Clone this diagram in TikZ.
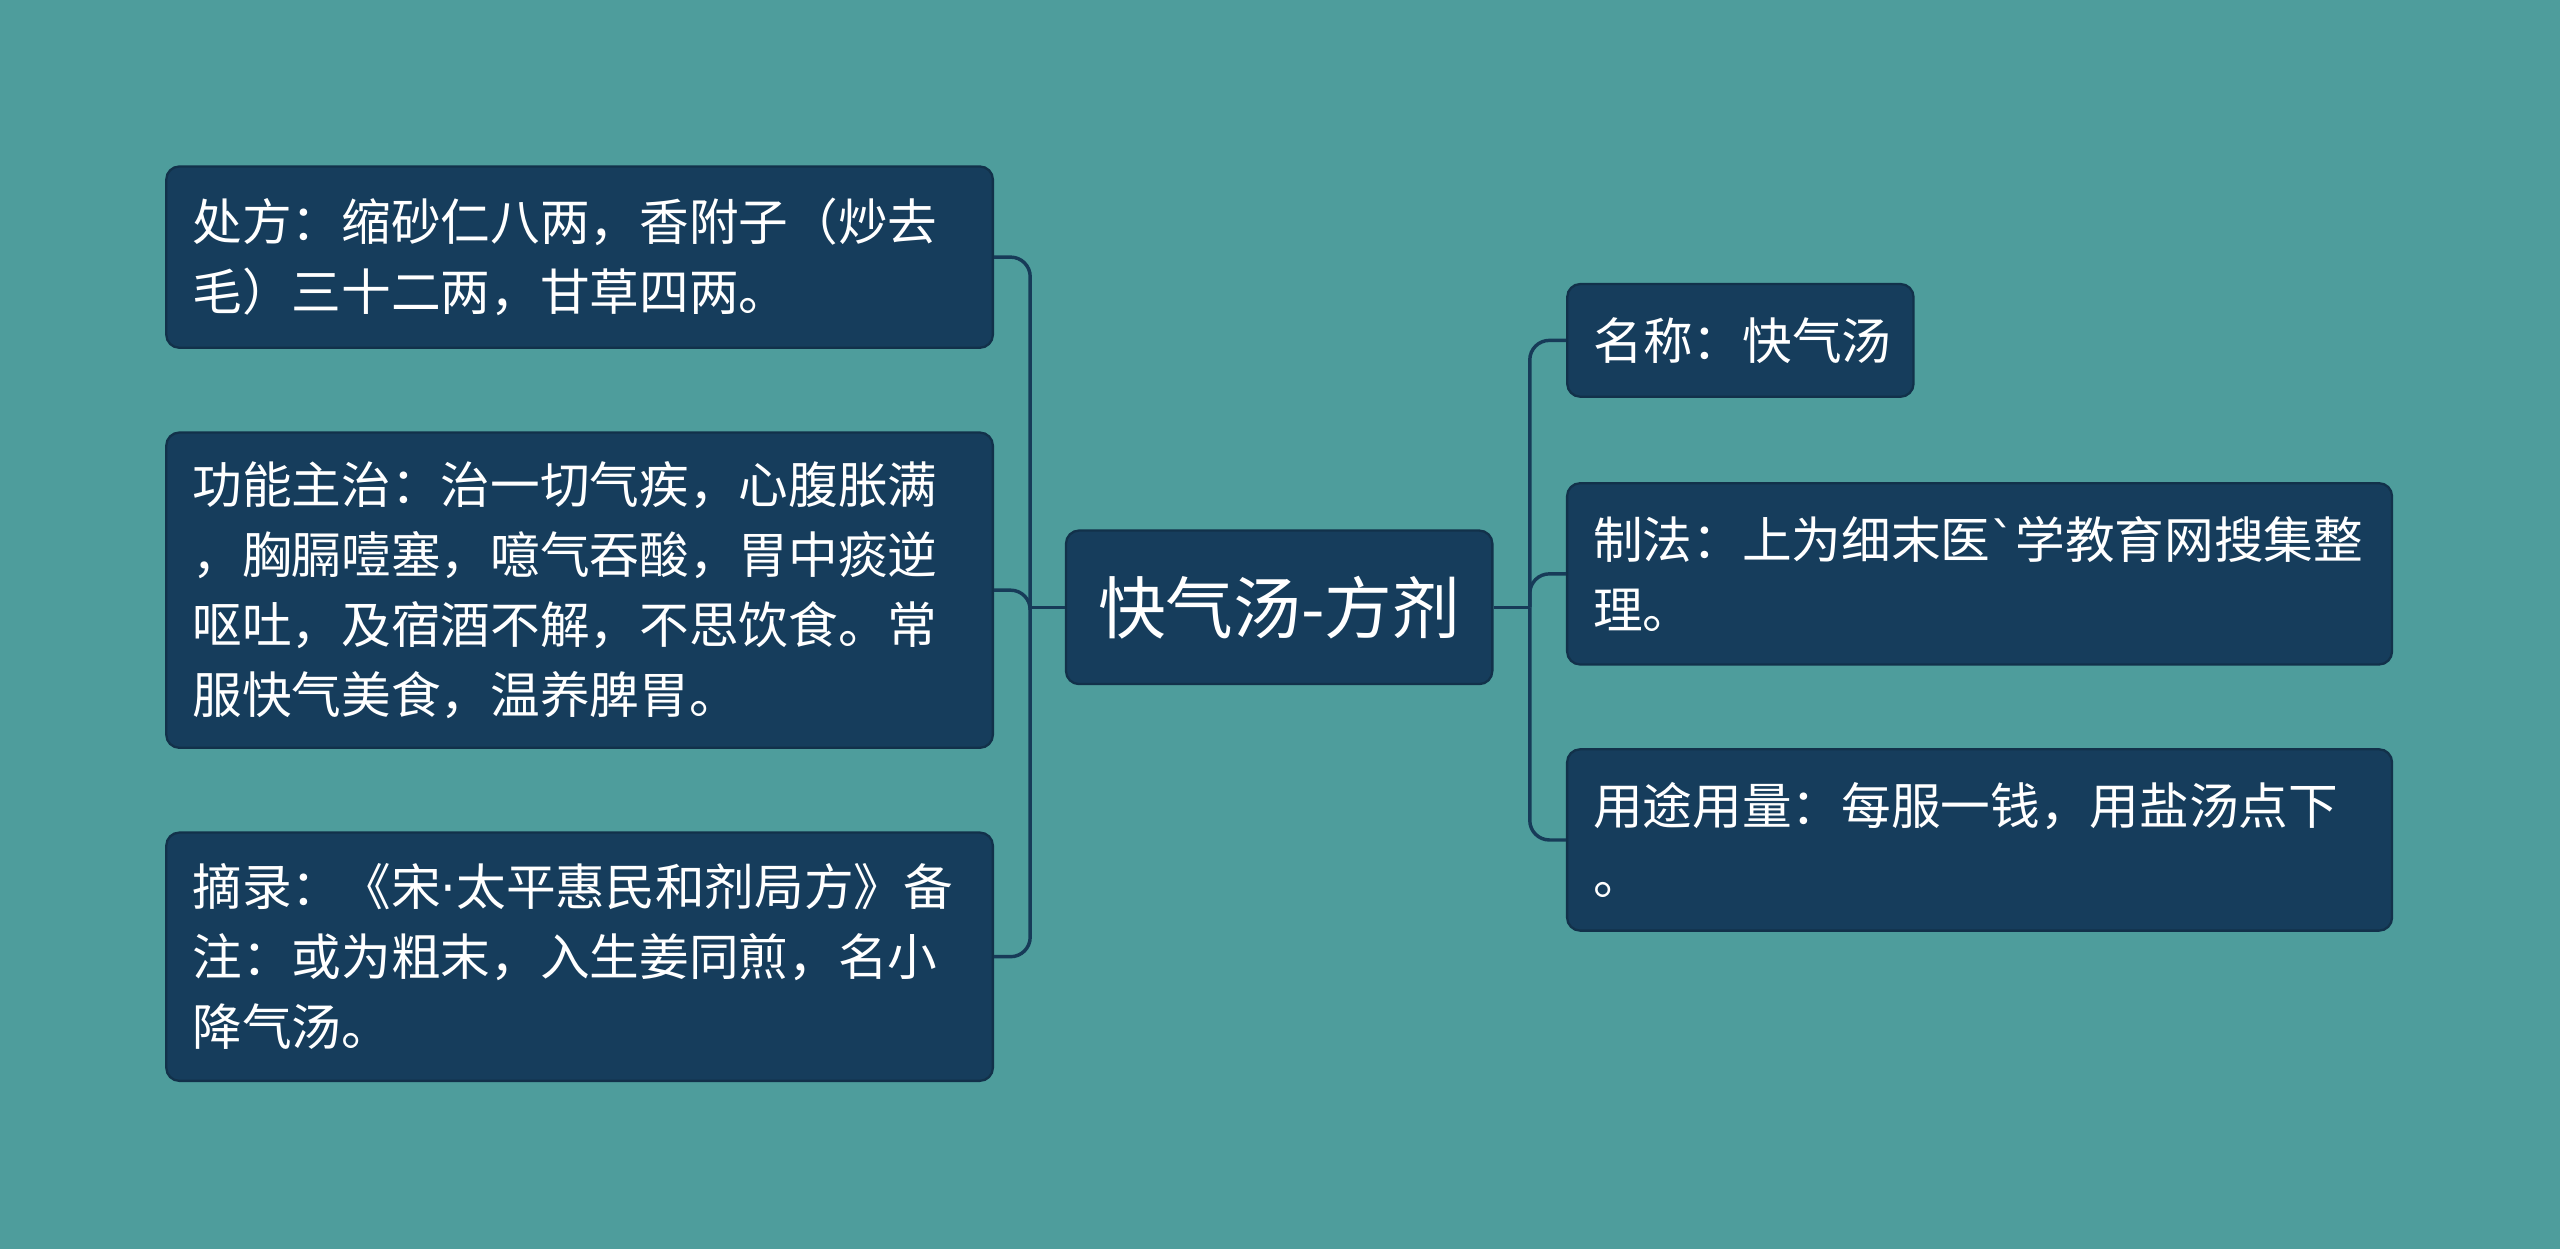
\documentclass[tikz,border=0pt]{standalone}
\usepackage{fontspec}
\setmainfont{Noto Sans CJK SC}
\newfontfamily\latfont{DejaVu Sans}
\definecolor{bg}{HTML}{4E9D9C}
\definecolor{nd}{HTML}{163D5C}
\definecolor{ln}{HTML}{173B58}
\begin{document}
\begin{tikzpicture}[x=0.01cm,y=-0.01cm,
 box/.style={fill=nd,draw=nd!80!black,rounded corners=0.08cm,text=white,font=\fontsize{8.65pt}{12.2pt}\selectfont,align=left,inner sep=0pt},
 conn/.style={draw=ln,line width=0.6pt,rounded corners=0.12cm}]
\fill[bg] (0,0) rectangle (1568,765);
\node[box,minimum width=2.61cm,minimum height=0.94cm,font=\fontsize{11.8pt}{13pt}\selectfont,align=center] (c) at (783.5,372) {快气汤-方剂};
\node[box,minimum width=5.06cm,minimum height=1.11cm,text width=4.74cm] (l1) at (355,157.5) {处方：缩砂仁八两，香附子（炒去\\毛）三十二两，甘草四两。};
\node[box,minimum width=5.06cm,minimum height=1.93cm,text width=4.74cm] (l2) at (355,361.5) {功能主治：治一切气疾，心腹胀满\\，胸膈噎塞，噫气吞酸，胃中痰逆\\呕吐，及宿酒不解，不思饮食。常\\服快气美食，温养脾胃。};
\node[box,minimum width=5.06cm,minimum height=1.52cm,text width=4.74cm] (l3) at (355,586) {摘录：《宋{\latfont ·}太平惠民和剂局方》备\\注：或为粗末，入生姜同煎，名小\\降气汤。};
\node[box,minimum width=2.12cm,minimum height=0.69cm,text width=1.80cm] (r1) at (1066,208.5) {名称：快气汤};
\node[box,minimum width=5.05cm,minimum height=1.11cm,text width=4.73cm] (r2) at (1212.5,351.5) {制法：上为细末医{\latfont\char96}学教育网搜集整\\理。};
\node[box,minimum width=5.05cm,minimum height=1.11cm,text width=4.73cm] (r3) at (1212.5,514.5) {用途用量：每服一钱，用盐汤点下\\。};
\coordinate (jl) at (631,372);
\coordinate (jr) at (937,372);
\draw[draw=ln,line width=0.6pt] (c.west) -- (jl);
\draw[draw=ln,line width=0.6pt] (c.east) -- (jr);
\draw[conn] (jl) |- (l1.east);
\draw[conn] (jl) |- (l2.east);
\draw[conn] (jl) |- (l3.east);
\draw[conn] (jr) |- (r1.west);
\draw[conn] (jr) |- (r2.west);
\draw[conn] (jr) |- (r3.west);
\end{tikzpicture}
\end{document}
